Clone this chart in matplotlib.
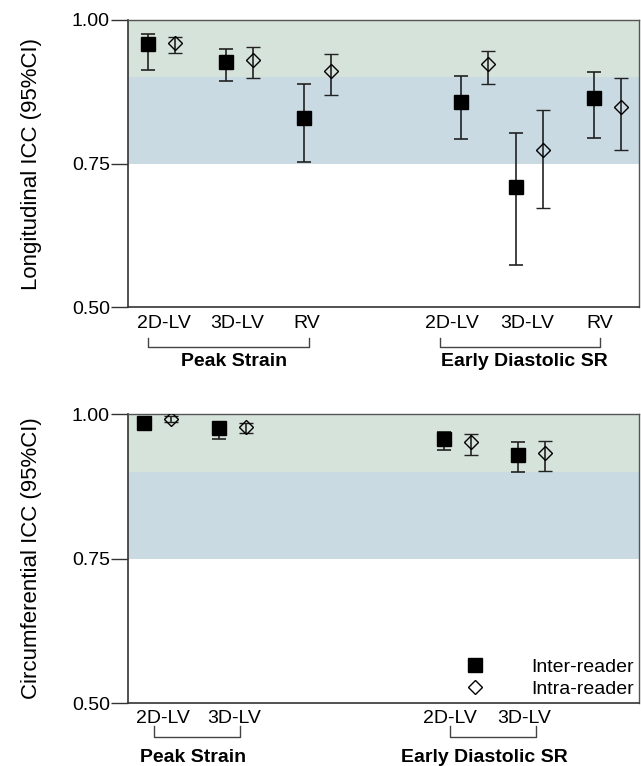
import matplotlib
matplotlib.use('Agg')
import matplotlib.pyplot as plt
import matplotlib.transforms as mtransforms

plt.rcParams['font.family'] = ['Liberation Sans', 'DejaVu Sans']

# ---- data: longitudinal ICC (95% CI) ----
long_labels = ['2D-LV', '3D-LV', 'RV', '2D-LV', '3D-LV', 'RV']
long_inter = [0.958, 0.927, 0.830, 0.857, 0.709, 0.864]
long_inter_lo = [0.913, 0.894, 0.753, 0.792, 0.573, 0.795]
long_inter_hi = [0.976, 0.949, 0.889, 0.903, 0.804, 0.910]
long_intra = [0.960, 0.931, 0.911, 0.924, 0.773, 0.849]
long_intra_lo = [0.942, 0.899, 0.869, 0.889, 0.672, 0.773]
long_intra_hi = [0.971, 0.953, 0.940, 0.946, 0.843, 0.899]

# ---- data: circumferential ICC (95% CI) ----
circ_labels = ['2D-LV', '3D-LV', '2D-LV', '3D-LV']
circ_inter = [0.984, 0.975, 0.957, 0.929]
circ_inter_lo = [0.978, 0.957, 0.938, 0.899]
circ_inter_hi = [0.990, 0.981, 0.969, 0.951]
circ_intra = [0.992, 0.977, 0.951, 0.932]
circ_intra_lo = [0.986, 0.968, 0.929, 0.902]
circ_intra_hi = [0.997, 0.984, 0.965, 0.953]

groups = ['Peak Strain', 'Early Diastolic SR']

# ---- layout (x in pixel-like units across the axes) ----
long_x = [148, 226, 304, 461, 516, 594]
long_lab_x = [164, 237, 307, 452, 527, 600]
long_brackets = [(148, 309), (440, 600)]
long_group_x = [234, 524]

circ_x = [144, 219, 444, 518]
circ_lab_x = [163, 234, 450, 524]
circ_brackets = [(154, 240), (450, 536)]
circ_group_x = [193, 484]

pair_gap = 27
green = '#d6e3da'
blue = '#c9dae3'


def draw_panel(ax, xs, inter, ilo, ihi, intra, alo, ahi, ylabel,
               lab_x, labels, brackets, group_x, lab_dy, br_dy, grp_dy):
    ax.set_xlim(128, 639)
    ax.set_ylim(0.5, 1.0)
    ax.axhspan(0.9, 1.0, color=green, zorder=0, lw=0)
    ax.axhspan(0.75, 0.9, color=blue, zorder=0, lw=0)

    x_intra = [x + pair_gap for x in xs]
    ax.errorbar(xs, inter,
                yerr=[[v - l for v, l in zip(inter, ilo)], [h - v for v, h in zip(inter, ihi)]],
                fmt='s', color='black', ecolor='#222222', elinewidth=1.2,
                capsize=5, capthick=1.2, markersize=9.5, zorder=3,
                label='Inter-reader')
    ax.errorbar(x_intra, intra,
                yerr=[[v - l for v, l in zip(intra, alo)], [h - v for v, h in zip(intra, ahi)]],
                fmt='D', mfc='none', mec='black', mew=1.0, ecolor='#222222',
                elinewidth=1.2, capsize=5, capthick=1.2, markersize=6.8, zorder=3,
                label='Intra-reader')

    ax.set_yticks([0.5, 0.75, 1.0])
    ax.set_yticklabels(['0.50', '0.75', '1.00'])
    ax.set_xticks([])
    ax.tick_params(axis='y', length=12, width=1.0, labelsize=14, color='#333333', pad=1)
    for side in ['left', 'bottom']:
        ax.spines[side].set_color('#333333')
        ax.spines[side].set_linewidth(1.2)
    for side in ['top', 'right']:
        ax.spines[side].set_color('#555555')
        ax.spines[side].set_linewidth(1.0)
    ax.set_ylabel(ylabel, fontsize=16)
    ax.yaxis.set_label_coords(-0.168, 0.5)

    trans = mtransforms.blended_transform_factory(ax.transData, ax.transAxes)
    for x, t in zip(lab_x, labels):
        ax.text(x, lab_dy, t, transform=trans, ha='center', va='center', fontsize=14)
    for (x0, x1) in brackets:
        ax.plot([x0, x0, x1, x1], [br_dy[0], br_dy[1], br_dy[1], br_dy[0]],
                transform=trans, color='#444444', lw=1.0, clip_on=False)
    for x, g in zip(group_x, groups):
        ax.text(x, grp_dy, g, transform=trans, ha='center', va='center',
                fontsize=14, fontweight='bold')


fig = plt.figure(figsize=(6.41, 7.66), dpi=100)
ax1 = fig.add_axes([0.1997, 0.5992, 0.7972, 0.3747])
ax2 = fig.add_axes([0.1997, 0.0822, 0.7972, 0.3773])

draw_panel(ax1, long_x, long_inter, long_inter_lo, long_inter_hi,
           long_intra, long_intra_lo, long_intra_hi, 'Longitudinal ICC (95%CI)',
           long_lab_x, long_labels, long_brackets, long_group_x,
           -0.056, (-0.108, -0.139), -0.191)
draw_panel(ax2, circ_x, circ_inter, circ_inter_lo, circ_inter_hi,
           circ_intra, circ_intra_lo, circ_intra_hi, 'Circumferential ICC (95%CI)',
           circ_lab_x, circ_labels, circ_brackets, circ_group_x,
           -0.052, (-0.080, -0.118), -0.19)

# legend in the lower panel, markers only
h, l = ax2.get_legend_handles_labels()
h = [hh[0] for hh in h]
ax2.legend(h, l, loc='lower right', bbox_to_anchor=(1.0, 0.0), frameon=False,
           fontsize=14, handletextpad=2.4, labelspacing=0.25, borderaxespad=0.1,
           borderpad=0.15, handlelength=1.0)

fig.savefig('out.png', dpi=100)
